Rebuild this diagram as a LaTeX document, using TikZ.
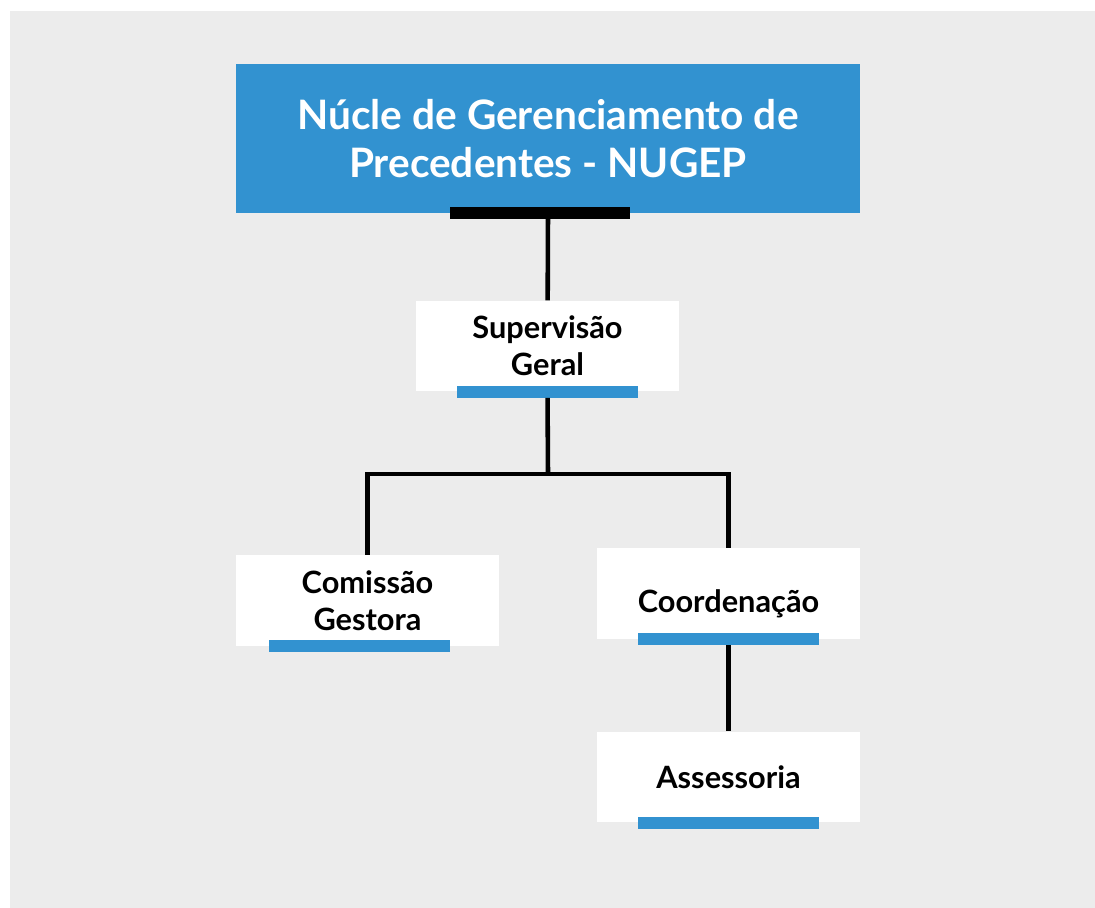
\documentclass[tikz,border=0pt]{standalone}
\usepackage{fontspec}
\setmainfont{Lato}
\usetikzlibrary{positioning}
\definecolor{nugepblue}{RGB}{50,146,208}
\definecolor{backgray}{RGB}{236,236,236}

\begin{document}
\begin{tikzpicture}[x = 0.02cm, y = -0.02cm,
		head/.style={rectangle, fill = nugepblue, inner sep = 0pt, minimum width = 12.48 cm, minimum height = 2.98 cm, text = white, align = center, font = \fontsize{23.1}{27.2}\selectfont\bfseries},
		unit/.style={rectangle, fill = white, inner sep = 0pt, minimum width = 5.26 cm, minimum height = 1.81 cm, align = center, font = \fontsize{17.5}{21}\selectfont\bfseries},
		strip/.style={rectangle, inner sep = 0pt, minimum width = 3.62 cm, minimum height = 0.24 cm},
		link/.style={line width = 2.6pt}
	]
	
	\useasboundingbox (0, 0) rectangle (1095, 908);
	\fill[backgray] (10, 11) rectangle (1095, 908);
	
	\node[head] (nugep) at (548, 138.5) {Núcle de Gerenciamento de\\Precedentes - NUGEP};
	\node[strip, fill = black, xshift = -0.16 cm] (nugepbar) at (nugep.south) {};
	
	\node[unit] (supervisao) at (547.5, 346) {Supervisão\\Geral};
	\node[strip, fill = nugepblue] (supervisaobar) at (supervisao.south) {};
	
	\node[unit] (comissao) at (367.5, 600.5) {Comissão\\Gestora};
	\node[strip, fill = nugepblue, xshift = -0.16 cm] (comissaobar) at (comissao.south) {};
	
	\node[unit] (coordenacao) at (728.5, 593.5) {\raisebox{-0.39cm}[0pt][0pt]{Coordenação}};
	\node[strip, fill = nugepblue] (coordenacaobar) at (coordenacao.south) {};
	
	\node[unit] (assessoria) at (728.5, 777) {Assessoria};
	\node[strip, fill = nugepblue] (assessoriabar) at (assessoria.south) {};
	
	\coordinate (split) at (548, 474);
	
	\draw[link] (nugep.south) -- (supervisao);
	\draw[link] (supervisaobar) -- (split);
	\draw[link] (split) -| (comissao);
	\draw[link] (split) -| (coordenacao);
	\draw[link] (coordenacaobar) -- (assessoria);
	
\end{tikzpicture}
\end{document}
